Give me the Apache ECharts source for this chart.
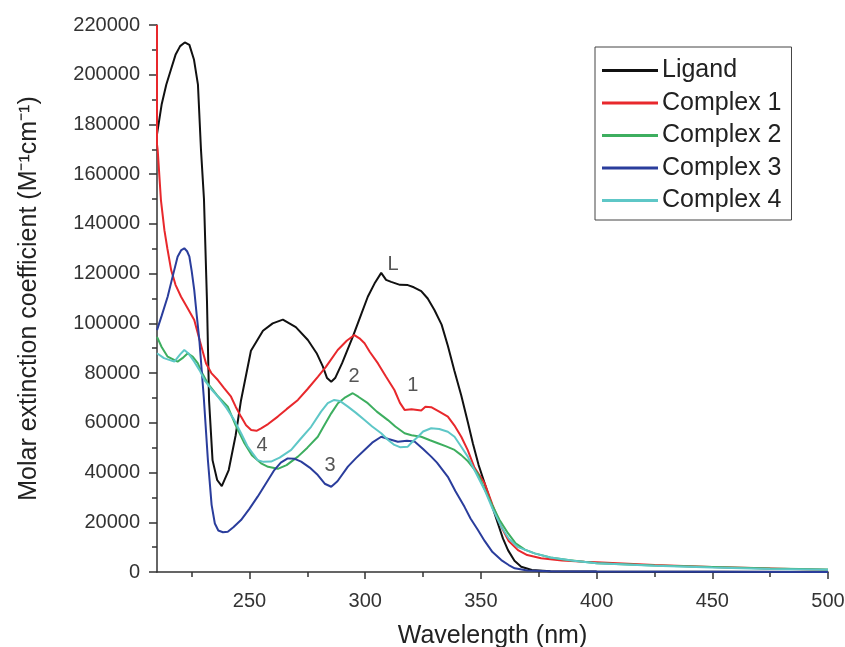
<!DOCTYPE html>
<html>
<head>
<meta charset="utf-8">
<script src="https://cdn.jsdelivr.net/npm/echarts@6/dist/echarts.min.js"></script>
<style>
html,body{margin:0;padding:0;background:#fff;}
#chart{width:845px;height:647px;}
</style>
</head>
<body>
<div id="chart"></div>
<script>
// ---- data (wavelength nm, molar extinction coefficient) ----
var seriesNames = ['Ligand', 'Complex 1', 'Complex 2', 'Complex 3', 'Complex 4'];
var xMajorTicks = [250, 300, 350, 400, 450, 500];
var xMinorTicks = [225, 275, 325, 375, 425, 475];

var ligand = [[210,176000],[212,188000],[214,196000],[216,202000],[218,208000],[220,211500],[222,213000],[224,212000],[226,206000],[227.7,196000],[229,170000],[230.3,150000],[231.6,109000],[232.5,69000],[234,45000],[236,37000],[238,34500],[241,41000],[244,55000],[246.3,69000],[250.6,89000],[255.8,97000],[260,100000],[264.4,101500],[270,98500],[275.2,93300],[279,88000],[281.7,82600],[283.5,78000],[285.3,76500],[287,78000],[290,84000],[294.6,94600],[298,103000],[301.1,110700],[304,116000],[306.9,120300],[309,117500],[311.2,116700],[315,115500],[318.4,115400],[321,114500],[324.2,113000],[327,110000],[329.9,105400],[333,99500],[335.7,91000],[338.5,81000],[341.5,71000],[344.4,60000],[346.5,51800],[349,43000],[351.6,35700],[354.5,27500],[357.3,19600],[359.5,13500],[361.7,8800],[364.5,4500],[367.4,2100],[372,800],[380,300],[400,200],[450,100],[500,0]];

var complex1 = [[210,220000],[210,172000],[210.3,169700],[211.7,149600],[213.2,137500],[214.5,130000],[216.1,121500],[218,115500],[220.4,110700],[223,106500],[226.1,101400],[228.5,93000],[231.2,83900],[233.5,80000],[236.3,77200],[239,74000],[242,70500],[244,66500],[246.3,62500],[248.5,59000],[250.7,57100],[253,56800],[255,57800],[258,59500],[262.2,62500],[266,65500],[270.9,69200],[275,73500],[279.5,78500],[283,82500],[288.1,89300],[292,93000],[295.3,95300],[297.5,94000],[299.7,92000],[302,88500],[305.5,83900],[309,78500],[312.6,73200],[315,68000],[317,65200],[320,65500],[324.2,65000],[326,66500],[328.5,66300],[332,64500],[335.7,62500],[338.5,59000],[341.5,54400],[344.3,49000],[347.2,42000],[351.6,35700],[355,27000],[358.8,18200],[362,12500],[366,8800],[370,6800],[376,5500],[385,4600],[394.8,4100],[400,3900],[425,2800],[450,2000],[468,1600],[500,800]];

var complex2 = [[210,94600],[212,90500],[214.6,86600],[218.9,84600],[221,86000],[223.3,88000],[225.5,86500],[227.6,84000],[229.5,80000],[231.9,75900],[236,71000],[240.6,66500],[244,59000],[247.8,51800],[251,47000],[255,43700],[258,42300],[262.2,41500],[266,43000],[270.9,46400],[275,50000],[279.5,54400],[282,58500],[285.3,63800],[288.2,67900],[291,70000],[294.6,71900],[297,70500],[301.1,67900],[305,64500],[309.8,61100],[313,58500],[317,55800],[320,55000],[324.2,54400],[328,53000],[331.4,51800],[335,50500],[338.6,49100],[341.5,47000],[344.4,44500],[348.7,39500],[351.5,33500],[354.5,27600],[358,21000],[361.7,15600],[365,11500],[369,9000],[373.2,7500],[380,5800],[387.6,4800],[400,3500],[425,2600],[450,2000],[475,1400],[500,1000]];

var complex3 = [[210,97300],[212,103000],[214.6,110700],[216.8,119000],[218.9,126800],[220.5,129500],[221.8,130200],[223,129000],[224,126800],[225,121000],[226.1,113400],[227.2,103000],[228.3,93300],[230.2,70500],[232,45000],[233.6,27000],[235,19500],[236.5,16700],[238.5,16000],[240.6,16200],[243,18000],[246.3,20900],[250,25500],[253.5,30300],[257,35500],[260.7,41000],[263.5,44000],[266.5,45700],[269.5,45500],[272.3,44400],[276,42000],[279.5,39000],[282.5,35500],[285.3,34300],[288,36500],[292.5,42400],[296,45800],[299.7,49100],[303,52000],[306.9,54400],[310,53500],[314.1,52400],[318,52800],[321.3,52500],[325,49500],[328.5,46400],[331,44000],[335.7,38300],[339,32500],[342.9,26200],[345.5,21500],[348.7,16900],[351.6,12500],[355,8000],[358.8,4800],[362,2800],[364.6,1500],[370,600],[380,300],[400,200],[450,100],[500,0]];

var complex4 = [[210,88000],[213,86000],[217.5,84600],[220,87500],[221.8,89300],[223.5,88000],[226.1,84600],[228.5,81000],[230.5,77200],[233.5,73500],[236.3,70500],[240,66000],[243.4,61100],[246.5,55500],[249.2,50400],[253.5,45000],[256,44300],[259.3,44400],[263,46000],[268,49100],[272,53500],[276.6,58400],[280.9,64500],[283.8,67900],[286.6,69200],[289,68800],[292.5,66500],[296,64000],[299.7,61100],[303,58500],[306.9,55800],[310,53000],[312.6,51100],[315,50200],[318.4,50400],[320.5,52500],[322.8,54400],[325,56500],[328.5,57800],[332,57500],[335.7,56400],[338.6,54400],[341.5,50400],[344.3,46400],[347.2,41000],[351.6,33000],[355,25500],[358.8,18200],[362,13500],[366,10000],[373.2,7500],[380,5800],[390,4500],[400,3500],[425,2500],[450,1800],[475,1200],[500,900]];

// curve annotations: [text, wavelength, value]
var annotations = [['L', 312, 123500], ['2', 295.2, 78500], ['1', 320.6, 75200], ['4', 255.4, 50700], ['3', 284.8, 43000]];

var seriesData = [ligand, complex1, complex2, complex3, complex4];
var colors = ['#111111', '#e8282c', '#3dae5f', '#2a3d9c', '#5ec7c7'];

var chart = echarts.init(document.getElementById('chart'), null, {renderer: 'canvas'});
var font = 'Liberation Sans, Arial, sans-serif';

var series = seriesNames.map(function (n, i) {
  return {
    name: n, type: 'line', data: seriesData[i], showSymbol: false, symbol: 'none',
    lineStyle: {color: colors[i], width: 2}, itemStyle: {color: colors[i]},
    clip: true, z: 2 + i
  };
});
series.push({
  type: 'scatter', name: 'labels', symbolSize: 0, silent: true,
  data: annotations.map(function (a) { return {name: a[0], value: [a[1], a[2]]}; }),
  label: {show: true, position: 'inside', formatter: '{b}', color: '#2a2a2a', fontSize: 20, fontFamily: font},
  z: 10
});

function plain(v) { return String(v); }

chart.setOption({
  animation: false,
  backgroundColor: '#ffffff',
  grid: {left: 157, right: 17, top: 25, bottom: 75, containLabel: false, outerBoundsMode: 'none'},
  legend: {
    data: seriesNames, orient: 'vertical', left: 595, top: 47,
    padding: [11, 10, 7, 7], itemWidth: 56, itemHeight: 3, itemGap: 7.5, icon: 'rect',
    borderColor: '#444', borderWidth: 1,
    textStyle: {fontSize: 25, lineHeight: 25, color: '#222', fontFamily: font, padding: [0, 0, 0, -1]}
  },
  xAxis: [{
    type: 'value', min: 210, max: 500,
    name: 'Wavelength (nm)', nameLocation: 'middle', nameGap: 52,
    nameTextStyle: {fontSize: 25, color: '#222', fontFamily: font},
    axisLine: {show: true, lineStyle: {color: '#333', width: 1.5}},
    axisTick: {show: true, customValues: xMajorTicks, length: 7, inside: false, lineStyle: {color: '#333', width: 1.5}},
    axisLabel: {customValues: xMajorTicks, fontSize: 20, color: '#333', margin: 19, fontFamily: font, formatter: plain},
    splitLine: {show: false}
  }, {
    type: 'value', min: 210, max: 500, position: 'bottom',
    axisLine: {show: false},
    axisTick: {show: true, customValues: xMinorTicks, length: 5, lineStyle: {color: '#333', width: 1.5}},
    axisLabel: {show: false},
    splitLine: {show: false}
  }],
  yAxis: {
    type: 'value', min: 0, max: 220000, interval: 20000,
    name: 'Molar extinction coefficient (M\u207B\u00B9cm\u207B\u00B9)', nameLocation: 'middle', nameGap: 115,
    nameTextStyle: {fontSize: 25, color: '#222', fontFamily: font},
    axisLine: {show: true, lineStyle: {color: '#333', width: 1.5}},
    axisTick: {show: true, length: 8, lineStyle: {color: '#333', width: 1.5}},
    minorTick: {show: true, splitNumber: 2, length: 5, lineStyle: {color: '#333', width: 1.5}},
    axisLabel: {fontSize: 20, color: '#333', margin: 17, fontFamily: font, formatter: plain},
    splitLine: {show: false}
  },
  series: series
});
</script>
</body>
</html>
